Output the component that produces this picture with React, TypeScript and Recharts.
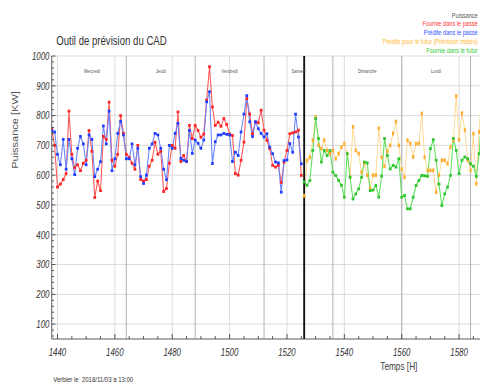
import React from "react";
import { LineChart, Line, XAxis, YAxis, CartesianGrid, ReferenceLine } from "recharts";

// hourly values, past block starts at 1438, future block at 1526 ("now")
const PAST_START = 1438;
const FUTURE_START = 1526;
const NOW = 1526;

const fourniePasse = [
  755, 700, 560, 570, 585, 605, 815, 670, 625, 635, 615, 640, 650, 750, 680, 525, 580, 548, 730, 720,
  845, 650, 630, 670, 800, 740, 670, 660, 640, 620, 700, 585, 580, 585, 630, 650, 710, 670, 680, 545,
  555, 640, 700, 690, 812, 646, 666, 646, 767, 723, 767, 750, 727, 738, 852, 964, 829, 767, 778, 764,
  790, 770, 738, 733, 605, 600, 650, 711, 857, 805, 739, 779, 776, 818, 751, 717, 689, 633, 627, 633,
  576, 644, 683, 739, 742, 745, 751, 599,
];

const preditePasse = [
  750, 745, 670, 635, 720, 620, 720, 655, 602, 690, 730, 705, 635, 735, 720, 595, 620, 645, 765, 705,
  815, 615, 655, 740, 780, 735, 655, 655, 705, 635, 690, 595, 572, 600, 690, 705, 740, 735, 690, 620,
  585, 700, 690, 740, 774, 656, 650, 646, 750, 673, 718, 707, 690, 718, 846, 880, 639, 712, 735, 735,
  740, 737, 735, 646, 677, 666, 745, 805, 867, 779, 730, 779, 756, 740, 728, 739, 694, 672, 644, 641,
  543, 649, 651, 706, 677, 805, 728, 638,
];

const preditFutur = [
  531, 649, 660, 717, 795, 700, 689, 717, 683, 672, 683, 655, 672, 694, 706, 672, 593, 762, 683, 672,
  610, 640, 600, 555, 600, 600, 757, 660, 630, 680, 700, 740, 780, 700, 620, 593, 717, 706, 661, 706,
  706, 807, 660, 616, 616, 616, 543, 600, 650, 650, 639, 694, 717, 865, 719, 808, 751, 650, 616, 739,
  571, 745, 897,
];

const fournieFutur = [
  577, 566, 582, 683, 790, 723, 644, 683, 666, 683, 610, 599, 582, 566, 526, 672, 593, 520, 537, 554,
  593, 644, 641, 548, 550, 565, 526, 597, 723, 666, 621, 633, 627, 655, 526, 532, 487, 487, 526, 565,
  582, 599, 598, 596, 689, 719, 650, 570, 498, 537, 560, 599, 723, 683, 605, 650, 661, 655, 638, 630,
  596, 672, 818,
];

const xLabels = [1440, 1460, 1480, 1500, 1520, 1540, 1560, 1580];
const yLabels = [100, 200, 300, 400, 500, 600, 700, 800, 900, 1000];
const dayBounds = [1464, 1488, 1512, 1536, 1560, 1584];
const dayCenters = [1452, 1476, 1500, 1524, 1548, 1572];
const dayNames = ["Mercredi", "Jeudi", "Vendredi", "Samedi", "Dimanche", "Lundi"];

const legendItems = [
  { text: "Puissance", color: "#555555" },
  { text: "Fournie dans le passé", color: "#ff3b3b" },
  { text: "Prédite dans le passé", color: "#3355ff" },
  { text: "Prédite pour le futur (Prévision météo)", color: "#ffb733" },
  { text: "Fournie dans le futur", color: "#33cc33" },
];

const X_MIN = 1438;
const X_MAX = 1592;
const xMinor = Array.from({ length: 31 }, (_, i) => 1440 + i * 5);
const yMinor = Array.from({ length: 48 }, (_, i) => 60 + i * 20);

const pastRows = fourniePasse.map((v, i) => ({ h: PAST_START + i, fournie: v, predite: preditePasse[i] }));
const futureRows = preditFutur.map((v, i) => ({ h: FUTURE_START + i, predite: v, fournie: fournieFutur[i] }));

// the picture looks horizontally squeezed, so draw wide and squeeze it
const SX = 0.75;
const W = 680;
const H = 383;

const squareDot = (fill: string, w: number, h: number) => (props: any) => {
  const { cx, cy, index } = props;
  if (cx == null || cy == null) return <g key={index} />;
  return <rect key={index} x={cx - w / 2} y={cy - h / 2} width={w} height={h} fill={fill} />;
};

const XTick = (props: any) => {
  const { x, y, payload } = props;
  const v = payload?.value;
  const major = v % 20 === 0;
  return (
    <g>
      <line x1={x} x2={x} y1={y} y2={y - (major ? 5 : 3)} stroke="#444" />
      {major && (
        <text x={x} y={y + 17} textAnchor="middle" fontSize={10.5} fontStyle="italic" fill="#333">
          {v}
        </text>
      )}
    </g>
  );
};

const TopTick = (props: any) => {
  const { x, y, payload } = props;
  const major = payload?.value % 20 === 0;
  return <line x1={x} x2={x} y1={y} y2={y + (major ? 5 : 3)} stroke="#444" />;
};

const YTick = (props: any) => {
  const { x, y, payload } = props;
  const v = payload?.value;
  const major = v % 100 === 0;
  return (
    <g>
      <line x1={x} x2={x + (major ? 5 : 3)} y1={y} y2={y} stroke="#444" />
      {major && (
        <text x={x - 3} y={y + 3.8} textAnchor="end" fontSize={10.5} fontStyle="italic" fill="#333">
          {v}
        </text>
      )}
    </g>
  );
};

export default function App() {
  return (
    <div
      style={{
        position: "absolute",
        left: 0,
        top: 0,
        width: 480,
        height: H,
        overflow: "hidden",
        background: "#fff",
        fontFamily: "'Liberation Sans', Arial, sans-serif",
      }}
    >
      <div style={{ position: "relative", width: W, height: H, transform: `scaleX(${SX})`, transformOrigin: "0 0" }}>
        <LineChart width={W} height={H} margin={{ top: 56, right: 22, left: 0, bottom: 0 }}>
          <CartesianGrid horizontalValues={yLabels} verticalValues={xLabels} stroke="#d6d6d6" />
          <XAxis
            dataKey="h"
            type="number"
            domain={[X_MIN, X_MAX]}
            ticks={xMinor}
            interval={0}
            tick={<XTick />}
            tickSize={0}
            tickMargin={0}
            tickLine={false}
            axisLine={{ stroke: "#444" }}
            height={44}
            allowDataOverflow
          />
          <XAxis
            xAxisId="top"
            orientation="top"
            type="number"
            domain={[X_MIN, X_MAX]}
            ticks={xMinor}
            interval={0}
            tick={<TopTick />}
            tickSize={0}
            tickMargin={0}
            tickLine={false}
            axisLine={{ stroke: "#444" }}
            height={0}
            allowDataOverflow
          />
          <YAxis
            type="number"
            domain={[50, 1000]}
            ticks={yMinor}
            interval={0}
            tick={<YTick />}
            tickSize={0}
            tickMargin={0}
            tickLine={false}
            axisLine={{ stroke: "#444" }}
            width={69}
            allowDataOverflow
          />
          {dayBounds.map((d) => (
            <ReferenceLine key={d} x={d} stroke="#a9a9a9" />
          ))}
          {dayCenters.map((d, i) => (
            <ReferenceLine
              key={"n" + d}
              x={d}
              stroke="none"
              label={{ value: dayNames[i], position: "insideTop", offset: 13, fontSize: 5.5, fill: "#555" }}
            />
          ))}
          <Line
            data={pastRows}
            dataKey="fournie"
            type="linear"
            stroke="#ff5555"
            strokeWidth={1.4}
            dot={squareDot("#ff2222", 3.6, 2.8)}
            activeDot={false}
            isAnimationActive={false}
          />
          <Line
            data={pastRows}
            dataKey="predite"
            type="linear"
            stroke="#6683ff"
            strokeWidth={1.4}
            dot={squareDot("#1f3dff", 3.6, 2.8)}
            activeDot={false}
            isAnimationActive={false}
          />
          <Line
            data={futureRows}
            dataKey="predite"
            type="linear"
            stroke="#ffd488"
            strokeWidth={1.1}
            dot={squareDot("#ffad2e", 3, 3.8)}
            activeDot={false}
            isAnimationActive={false}
          />
          <Line
            data={futureRows}
            dataKey="fournie"
            type="linear"
            stroke="#5ee05e"
            strokeWidth={1.4}
            dot={squareDot("#2ec42e", 3.6, 2.8)}
            activeDot={false}
            isAnimationActive={false}
          />
          <ReferenceLine x={NOW} stroke="#111" strokeWidth={2.5} />
        </LineChart>

        <div style={{ position: "absolute", left: 75, top: 35, fontSize: 12.8, lineHeight: 1, color: "#333", whiteSpace: "nowrap" }}>
          Outil de prévision du CAD
        </div>

        <div
          style={{
            position: "absolute",
            right: 43,
            top: 11.6,
            fontSize: 7.5,
            lineHeight: "8.8px",
            textAlign: "right",
            whiteSpace: "nowrap",
          }}
        >
          {legendItems.map((it) => (
            <div key={it.text} style={{ color: it.color }}>
              {it.text}
            </div>
          ))}
        </div>

        <div
          style={{
            position: "absolute",
            left: 20,
            top: 130,
            transform: "translate(-50%, -50%) rotate(-90deg)",
            fontSize: 11,
            color: "#555",
            whiteSpace: "nowrap",
          }}
        >
          Puissance [KW]
        </div>

        <div style={{ position: "absolute", left: 507, top: 361, fontSize: 11, lineHeight: 1, color: "#444", whiteSpace: "nowrap" }}>
          Temps [H]
        </div>

        <div style={{ position: "absolute", left: 71, top: 376, fontSize: 8, lineHeight: 1, color: "#333", whiteSpace: "nowrap" }}>
          Verbier le&nbsp; 2018/11/03 à 13:00
        </div>
      </div>
    </div>
  );
}
